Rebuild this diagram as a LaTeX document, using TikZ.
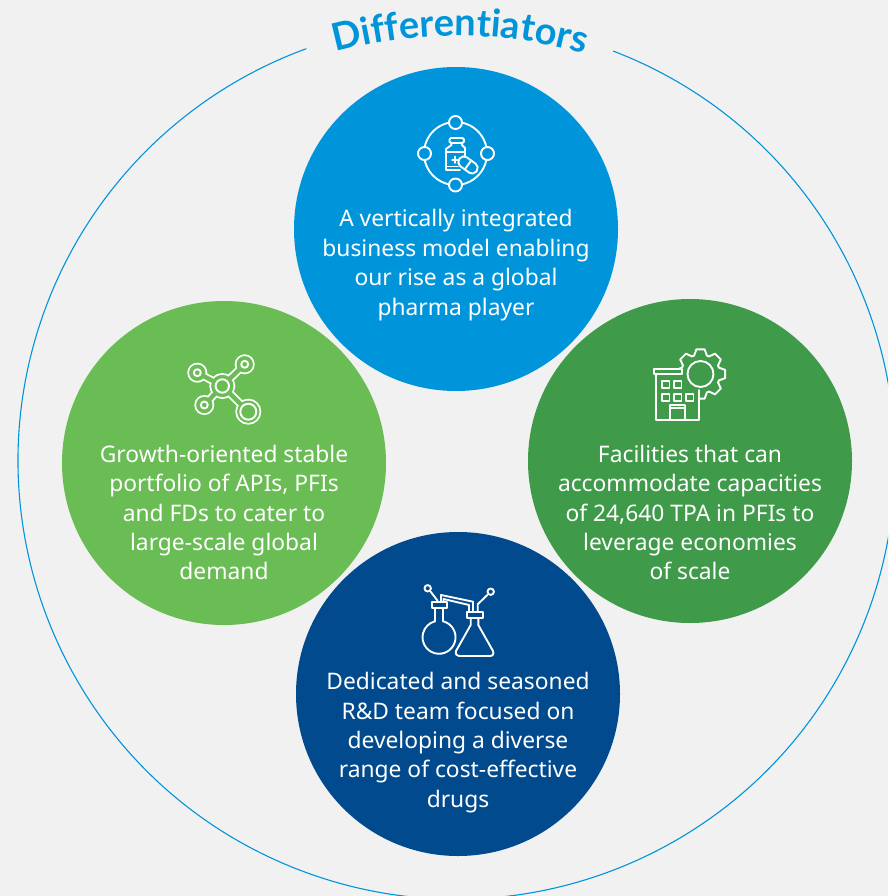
\documentclass[tikz,border=0pt]{standalone}
\usepackage{fontspec}
\setmainfont{Noto Sans}
\newfontfamily\titlefont{Lato}
\usetikzlibrary{decorations.text}
\definecolor{bgc}{HTML}{F1F1F1}
\definecolor{cblue}{HTML}{0095DA}
\definecolor{clime}{HTML}{6ABD55}
\definecolor{cgreen}{HTML}{3F9A4A}
\definecolor{cnavy}{HTML}{004A8D}
\tikzset{
  disc/.style={circle,minimum size=324pt,inner sep=0pt,draw=none},
  body/.style={text=white,align=center,font=\fontsize{22.8}{29.4}\selectfont,inner sep=0pt},
  ico/.style={draw=white,line width=1.9pt,line join=round,line cap=round},
}
\begin{document}
\begin{tikzpicture}[x=1pt,y=-1pt]
\fill[bgc] (0,0) rectangle (888,896);
\useasboundingbox (0,0) rectangle (888,896);
% outer ring
\begin{scope}
\clip (0,0) rectangle (888,896);
\draw[cblue,line width=1.1pt] (613,51) arc[start angle=-69.1,end angle=249.96,radius=438.5];
\end{scope}
% title
\path[postaction={decorate,decoration={text along path,text align=center,
  text={|\titlefont\fontsize{38}{38}\selectfont\bfseries\color{cblue}|Differentiators}}}]
  (325,55) .. controls (412,29) and (505,29) .. (595,57);
% discs
\node[disc,fill=cblue] (top) at (456,229) {};
\node[disc,fill=clime] (left) at (224,463) {};
\node[disc,fill=cgreen] (right) at (690,461) {};
\node[disc,fill=cnavy] (bottom) at (458,694) {};
% texts
\node[body] (toptext) at (456,265) {A vertically integrated\\business model enabling\\our rise as a global\\pharma player};
\node[body] (lefttext) at (224,512.5) {Growth-oriented stable\\portfolio of APIs, PFIs\\and FDs to cater to\\large-scale global\\demand};
\node[body] (righttext) at (690,512.5) {Facilities that can\\accommodate capacities\\of 24,640 TPA in PFIs to\\leverage economies\\of scale};
\node[body] (bottomtext) at (458,742.5) {Dedicated and seasoned\\R\&D team focused on\\developing a diverse\\range of cost-effective\\drugs};
% icon top
\begin{scope}[ico]
\draw (455.5,153.5) circle[radius=31.5];
\foreach \a/\b in {455.5/122.5,455.5/185,424.5/153.5,487.5/153.5}
  \filldraw[fill=cblue] (\a,\b) circle[radius=6.5];
\draw[rounded corners=1.5pt] (449.5,138) rectangle (464,143);
\draw (451.5,143) -- (451.5,145) -- (446,149) -- (446,170) -- (460,170);
\draw (462,143) -- (462,145) -- (465,148) -- (465,160);
\draw (446,152) -- (465,152);
\draw (446,166.5) -- (458,166.5);
\draw (455,156.5) -- (455,163) (452,159.7) -- (458.5,159.7);
\begin{scope}[shift={(468,165)},rotate=-36]
\filldraw[fill=cblue,rounded corners=5pt] (-10.5,-5.5) rectangle (10.5,5.5);
\draw (0,-5.5) -- (0,5.5);
\end{scope}
\end{scope}
% icon left: outline of the joined shapes, then its inside
\foreach \col/\d in {white/0,clime/3.6}{
  \fill[\col] (222.3,386) circle[radius=13-\d/2];
  \fill[\col] (197.3,372.7) circle[radius=10-\d/2];
  \fill[\col] (244.7,364.3) circle[radius=10-\d/2];
  \fill[\col] (204.3,405) circle[radius=10-\d/2];
  \fill[\col] (248.3,411.7) circle[radius=13-\d/2];
  \draw[\col,line width=8pt-\d pt] (222.3,386) -- (197.3,372.7);
  \draw[\col,line width=8pt-\d pt] (222.3,386) -- (244.7,364.3);
  \draw[\col,line width=8pt-\d pt] (222.3,386) -- (204.3,405);
  \draw[\col,line width=8pt-\d pt] (222.3,386) -- (248.3,411.7);
}
\begin{scope}[ico]
\draw (222.3,386) circle[radius=6.7];
\draw (197.3,372.7) circle[radius=3.5];
\draw (244.7,364.3) circle[radius=3.5];
\draw (204.3,405) circle[radius=3.5];
\filldraw[fill=clime] (248.3,411.7) circle[radius=8];
\end{scope}
% icon right
\begin{scope}[ico]
\draw[shift={(700.5,374)}] (-19:19.5)
  \foreach \k in {0,...,7}{
    -- (\k*45-9.5:25) -- (\k*45+9.5:25) -- (\k*45+19:19.5) -- (\k*45+26:19.5)
  } -- cycle;
\fill[cgreen,draw=none] (654,369) -- (682,369) -- (682,376) -- (688,385) -- (699,390) -- (699,420) -- (656,420) -- cycle;
\draw (700.5,374) circle[radius=13];
\draw (654,369) rectangle (682,374);
\draw (656,374) -- (656,420) -- (699,420) -- (699,390);
\foreach \a/\b in {662/381,674/381,662/394,674/394,686/394}
  \draw (\a,\b) rectangle ++(7.5,7);
\draw (670,420) -- (670,405) -- (685,405) -- (685,420);
\draw (670,408) -- (685,408);
\end{scope}
% icon bottom
\begin{scope}[ico]
\draw (443.2,621.3) arc[start angle=-75.4,end angle=255.4,radius=16.5];
\draw (434.8,621.3) -- (434.8,608.3) (443.2,621.3) -- (443.2,608.3);
\draw (432,602) rectangle (447,608.3);
\draw (437.7,601) -- (430.7,591.7);
\draw (427.7,588.3) circle[radius=3.2];
\draw (441,602) -- (441,595) -- (473,601.7) -- (473,612);
\draw (443.5,602) -- (443.5,599) -- (469,605) -- (469,612);
\draw (467,612) rectangle (483,618);
\draw (470.7,618) -- (470.7,625) -- (456,651) .. controls (455,654) and (457,656) .. (459,656) -- (490,656) .. controls (493,656) and (494,654) .. (493,651) -- (478.3,625) -- (478.3,618);
\draw (477.7,612) -- (477.7,604.3) -- (487.3,595);
\draw (490.7,591.7) circle[radius=3.2];
\end{scope}
\end{tikzpicture}
\end{document}
